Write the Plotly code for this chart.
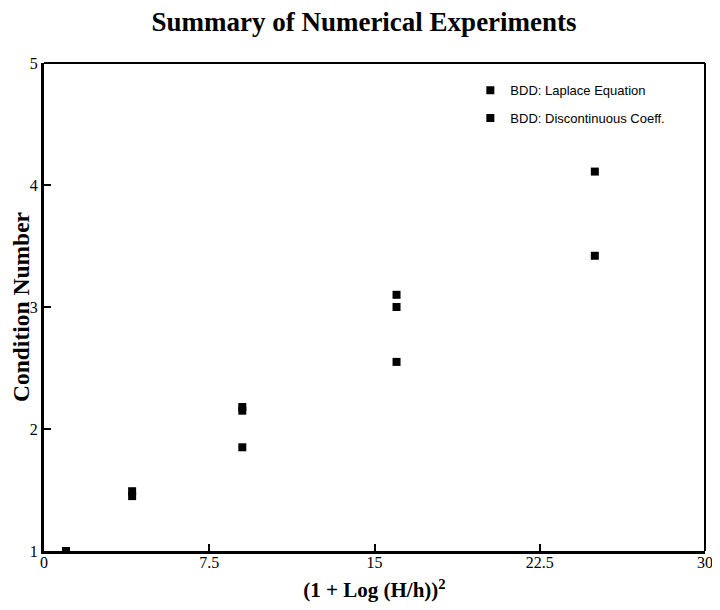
import plotly.graph_objects as go

laplace_x = [1, 4, 9, 16, 25]
laplace_y = [1.0, 1.45, 1.85, 2.55, 3.42]
disc_x = [1, 4, 9, 9, 16, 16, 25]
disc_y = [1.0, 1.49, 2.15, 2.18, 3.0, 3.1, 4.11]
x_ticks = [0, 7.5, 15, 22.5, 30]
x_tick_labels = ["0", "7.5", "15", "22.5", "30"]
y_ticks = [1, 2, 3, 4, 5]

serif = "Liberation Serif"
fig = go.Figure()
fig.add_trace(go.Scatter(x=laplace_x, y=laplace_y, mode="markers", name="BDD: Laplace Equation",
                         legendgroup="a",
                         marker=dict(symbol="square", size=8, color="black")))
fig.add_trace(go.Scatter(x=disc_x, y=disc_y, mode="markers", name="BDD: Discontinuous Coeff.",
                         legendgroup="b",
                         marker=dict(symbol="square", size=8, color="black")))

fig.update_layout(
    width=712, height=602,
    margin=dict(l=36, r=15, t=55, b=59),
    paper_bgcolor="white", plot_bgcolor="white",
    title=dict(text="<b>Summary of Numerical Experiments</b>", x=0.5, xanchor="center",
               y=0.977, yanchor="middle", font=dict(family=serif, size=27, color="black")),
    legend=dict(x=0.645, y=0.975, xanchor="left", yanchor="top", bgcolor="rgba(0,0,0,0)",
                font=dict(family="Liberation Sans", size=13, color="black"),
                tracegroupgap=8),
    xaxis=dict(range=[0, 30], tickvals=x_ticks, ticktext=x_tick_labels, showgrid=False, zeroline=False,
               automargin=False, ticklabelstandoff=-5,
               showline=True, linecolor="black", linewidth=3, ticks="inside", ticklen=7, tickwidth=2,
               tickcolor="black", tickfont=dict(family=serif, size=16, color="black"),
               title=dict(text="<b>(1 + Log (H/h))<sup>2</sup></b>",
                          standoff=13,
                          font=dict(family=serif, size=21, color="black"))),
    yaxis=dict(range=[1, 5], tickvals=y_ticks, showgrid=False, zeroline=False,
               automargin=False,
               showline=True, linecolor="black", linewidth=3, ticks="inside", ticklen=7, tickwidth=2,
               tickcolor="black", tickfont=dict(family=serif, size=16, color="black"),
               title=dict(text="<b>Condition Number</b>", standoff=0,
                          font=dict(family=serif, size=23.5, color="black"))),
    shapes=[
        dict(type="line", xref="paper", yref="paper", x0=0, x1=1, y0=1, y1=1,
             line=dict(color="black", width=2)),
        dict(type="line", xref="paper", yref="paper", x0=1, x1=1, y0=0, y1=1,
             line=dict(color="black", width=2)),
    ],
)
fig.write_html("out.html")
